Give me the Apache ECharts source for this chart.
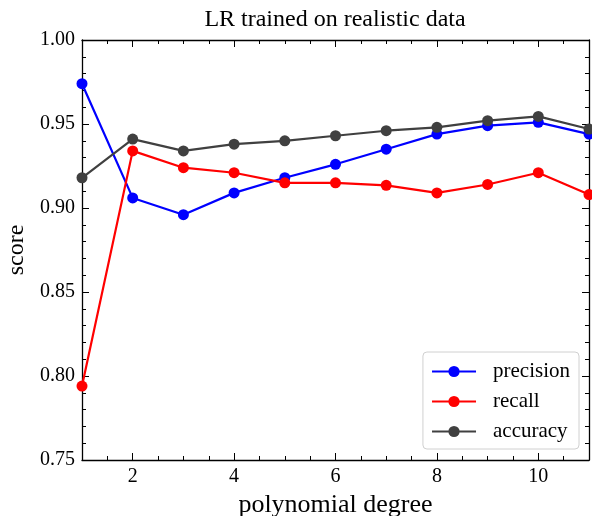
<!DOCTYPE html>
<html>
<head>
<meta charset="utf-8">
<script src="https://cdn.jsdelivr.net/npm/echarts@6/dist/echarts.min.js"></script>
<style>html,body{margin:0;padding:0;background:#fff}#c{width:592px;height:516px}</style>
</head>
<body>
<div id="c"></div>
<script>
const degrees = [1, 2, 3, 4, 5, 6, 7, 8, 9, 10, 11];
const precision = [0.974, 0.906, 0.896, 0.909, 0.918, 0.926, 0.935, 0.944, 0.949, 0.951, 0.944];
const recall = [0.794, 0.934, 0.924, 0.921, 0.915, 0.915, 0.9135, 0.909, 0.914, 0.921, 0.908];
const accuracy = [0.918, 0.941, 0.934, 0.938, 0.940, 0.943, 0.946, 0.948, 0.952, 0.9545, 0.947];
const xMajorTicks = [2, 4, 6, 8, 10];

const FONT = 'Liberation Serif';
const chart = echarts.init(document.getElementById('c'));
const pair = (arr) => degrees.map((d, i) => [d, arr[i]]);
const axisLine = {show: true, lineStyle: {color: '#000', width: 1.3}};
function mkSeries(name, data, color) {
  return {
    name, type: 'line', data: pair(data), xAxisIndex: 0, yAxisIndex: 0,
    symbol: 'circle', symbolSize: 11, lineStyle: {color, width: 2.2},
    itemStyle: {color}, emphasis: {disabled: true}, z: 5, clip: false
  };
}
const minorX = (pos) => ({
  type: 'value', min: 1, max: 11, interval: 0.5, position: pos,
  axisLine: {show: false}, axisLabel: {show: false}, splitLine: {show: false},
  axisTick: {show: true, inside: true, length: 4, lineStyle: {color: '#000', width: 1}}
});
const majorX = (pos, labels) => ({
  type: 'value', min: 1, max: 11, position: pos,
  axisLine, splitLine: {show: false},
  axisTick: {show: true, inside: true, length: 7, customValues: xMajorTicks, lineStyle: {color: '#000', width: 1}},
  axisLabel: labels ? {show: true, customValues: xMajorTicks, fontFamily: FONT, fontSize: 20, color: '#000', margin: 7} : {show: false},
  name: labels ? 'polynomial degree' : '', nameLocation: 'middle', nameGap: 29,
  nameTextStyle: {fontFamily: FONT, fontSize: 26, color: '#000'}
});
const yAx = (pos, labels) => ({
  type: 'value', min: 0.75, max: 1.0, interval: 0.05, position: pos,
  axisLine, splitLine: {show: false},
  axisTick: {show: true, inside: true, length: 7, lineStyle: {color: '#000', width: 1}},
  minorTick: {show: true, splitNumber: 5, length: 4, lineStyle: {color: '#000', width: 1}},
  axisLabel: labels ? {show: true, fontFamily: FONT, fontSize: 20, color: '#000', margin: 7, formatter: v => v.toFixed(2)} : {show: false},
  name: labels ? 'score' : '', nameLocation: 'middle', nameGap: 47, nameRotate: 90,
  nameTextStyle: {fontFamily: FONT, fontSize: 24, color: '#000'}
});
chart.setOption({
  animation: false,
  backgroundColor: '#fff',
  title: {
    text: 'LR trained on realistic data', left: 330, textAlign: 'center', top: 3,
    textStyle: {fontFamily: FONT, fontSize: 24, fontWeight: 'normal', color: '#000'}
  },
  grid: {left: 82, right: 3, top: 40, bottom: 56, containLabel: false, outerBoundsMode: 'none'},
  xAxis: [majorX('bottom', true), minorX('bottom'), majorX('top', false), minorX('top')],
  yAxis: [yAx('left', true), yAx('right', false)],
  legend: {
    right: 13, bottom: 67, orient: 'vertical',
    backgroundColor: '#fff', borderColor: '#d0d0d0', borderWidth: 1, borderRadius: 4,
    padding: [9, 9, 7, 8], itemGap: 9, itemWidth: 44, itemHeight: 14,
    lineStyle: {width: 2.2},
    textStyle: {fontFamily: FONT, fontSize: 21, color: '#000', padding: [0, 0, 0, 12]},
    data: ['precision', 'recall', 'accuracy']
  },
  series: [
    mkSeries('precision', precision, '#0000ff'),
    mkSeries('recall', recall, '#ff0000'),
    mkSeries('accuracy', accuracy, '#404040')
  ]
});
</script>
</body>
</html>
